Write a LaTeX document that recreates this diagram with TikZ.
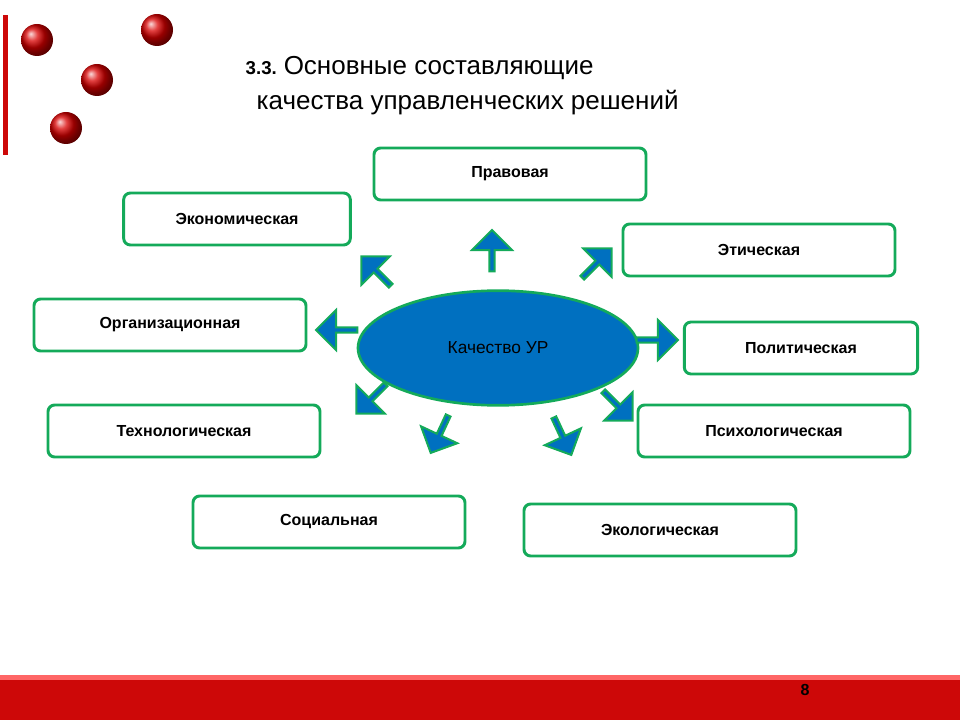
\documentclass[tikz,border=0pt]{standalone}
\usepackage{fontspec}
\setmainfont{Liberation Sans}
\usetikzlibrary{shapes.geometric,shapes.arrows,shadings}
\definecolor{boxgreen}{RGB}{20,170,90}
\definecolor{urblue}{RGB}{0,112,192}
\definecolor{barred}{RGB}{205,8,8}
\tikzset{kind/.style={draw=boxgreen, line width=2.2pt, rounded corners=5pt, fill=white,
  minimum width=204pt, minimum height=39pt, font=\fontsize{12}{14}\selectfont\bfseries},
ptr/.style={single arrow, draw=boxgreen, line width=1.5pt, fill=urblue,
  minimum height=31pt, minimum width=30pt, single arrow head extend=5pt, inner sep=0pt, rotate=#1},
ball/.style={ball color=red!85!black, draw=none}}

\begin{document}
\begin{tikzpicture}[x=0.75pt,y=-0.75pt]
    \useasboundingbox (0,0) rectangle (960,720);

    % decoration
    \fill[barred] (3,15) rectangle (8,155);
    \foreach \bx/\by in {37/40,157/30,97/80,66/128}
    \shade[ball] (\bx,\by) circle (16);
    \fill[barred] (0,675) rectangle (960,720);
    \fill[red!60] (0,675) rectangle (960,680);
    \node (page) at (805,690) {\fontsize{12}{14}\selectfont\bfseries 8};

    % title
    \node[anchor=west] (title1) at (241,68) {\fontsize{14}{16}\selectfont\bfseries 3.3. \fontsize{19.5}{22}\selectfont\mdseries Основные составляющие};
    \node[anchor=west] (title2) at (252,103) {\fontsize{19.5}{22}\selectfont качества управленческих решений};

    % centre
    \node[ellipse, draw=boxgreen, line width=2pt, fill=urblue, minimum width=210pt, minimum height=86pt,
      font=\fontsize{13}{15}\selectfont] (ur) at (498,348) {Качество УР};

    % kinds
    \node[kind] (prav) at (510,174) {Правовая};
    \node[kind, minimum width=170pt] (econ) at (237,219) {Экономическая};
    \node[kind] (etich) at (759,250) {Этическая};
    \node[kind] (org) at (170,325) {Организационная};
    \node[kind, minimum width=175pt] (polit) at (801,348) {Политическая};
    \node[kind] (tech) at (184,431) {Технологическая};
    \node[kind] (psych) at (774,431) {Психологическая};
    \node[kind] (soc) at (329,522) {Социальная};
    \node[kind] (ecol) at (660,530) {Экологическая};

    % arrows
    \node[ptr=90] (a1) at (492,252) {};
    \node[ptr=135] (a2) at (377,272) {};
    \node[ptr=45] (a3) at (596,264) {};
    \node[ptr=180] (a4) at (338,330) {};
    \node[ptr=0] (a5) at (656,340) {};
    \node[ptr=225] (a6) at (372,398) {};
    \node[ptr=245] (a7) at (440,433) {};
    \node[ptr=295] (a8) at (562,435) {};
    \node[ptr=315] (a9) at (617,405) {};

\end{tikzpicture}
\end{document}
